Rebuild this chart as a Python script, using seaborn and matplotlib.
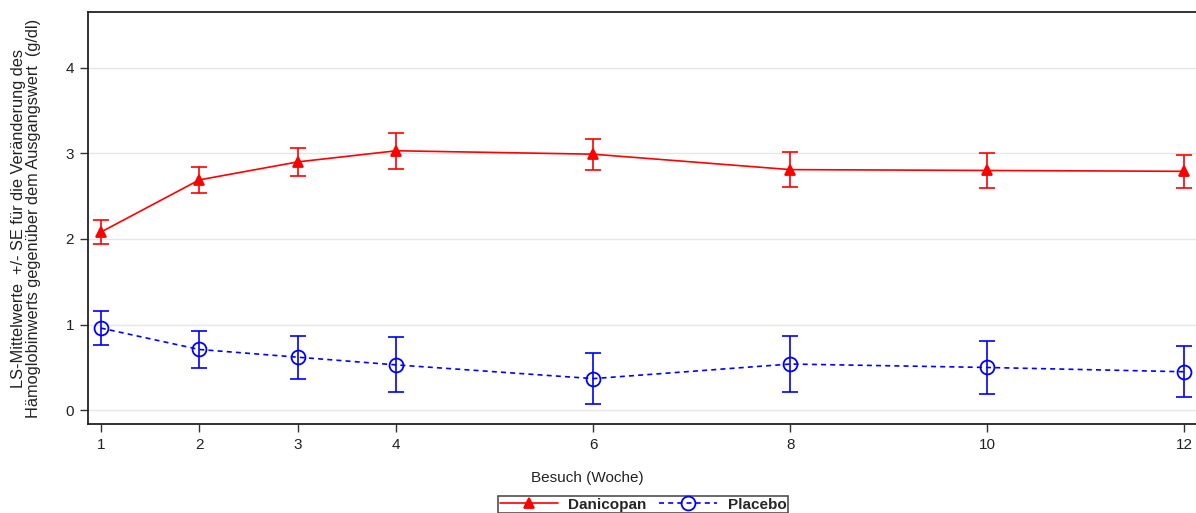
import numpy as np
import pandas as pd
import matplotlib
matplotlib.use('Agg')
import matplotlib.pyplot as plt
import seaborn as sns

weeks = [1, 2, 3, 4, 6, 8, 10, 12]
dani_mean = [2.08, 2.69, 2.90, 3.03, 2.99, 2.81, 2.80, 2.79]
dani_se = [0.14, 0.15, 0.16, 0.21, 0.18, 0.20, 0.20, 0.19]
plac_mean = [0.96, 0.71, 0.62, 0.53, 0.37, 0.54, 0.50, 0.45]
plac_se = [0.20, 0.22, 0.25, 0.32, 0.30, 0.33, 0.31, 0.30]
y_ticks = [0, 1, 2, 3, 4]

data_df = pd.DataFrame({
    'week': weeks * 2,
    'mean': dani_mean + plac_mean,
    'se': dani_se + plac_se,
    'group': ['Danicopan'] * len(weeks) + ['Placebo'] * len(weeks),
})

sns.set_theme(style="white")
plt.rcParams['font.family'] = ['Liberation Sans', 'DejaVu Sans']

fig = plt.figure(figsize=(11.96, 5.13), dpi=100)
ax = fig.add_axes([88 / 1196, 1 - 424 / 513, 1112 / 1196, 412 / 513])

colors = {'Danicopan': '#ff0000', 'Placebo': '#0000ff'}
styles = {'Danicopan': dict(ls='-', marker='^', mfc='#ff0000', ms=7),
          'Placebo': dict(ls=(0, (3, 2.5)), marker='o', mfc='none', ms=10)}

handles = []
for name, grp in data_df.groupby('group'):
    st = styles[name]
    ax.errorbar(grp['week'], grp['mean'], yerr=grp['se'], fmt='none',
                ecolor=colors[name], elinewidth=1.2, capsize=6, capthick=1.2, zorder=2)
    sns.lineplot(data=grp, x='week', y='mean', ax=ax, color=colors[name], lw=1.2,
                 linestyle=st['ls'], marker=st['marker'], mfc=st['mfc'],
                 mec=colors[name], ms=st['ms'], mew=1.3, zorder=3)
    handles.append(ax.get_lines()[-1])

ax.set_xlim(0.87, 12.16)
ax.set_ylim(-0.16, 4.65)
ax.set_xticks(weeks)
ax.set_yticks(y_ticks)
ax.tick_params(axis='both', length=6, width=1, color='#333333', labelsize=11,
               left=True, bottom=True, pad=4, labelcolor='#222222')
ax.grid(axis='y', color='#e6e6e6', lw=1)
ax.set_axisbelow(True)
for s in ax.spines.values():
    s.set_color('#222222')
    s.set_linewidth(1.3)

ax.set_xlabel('Besuch (Woche)', fontsize=11, color='#222222')
ax.xaxis.set_label_coords((587 - 88) / 1112, -0.115)
ax.set_ylabel('LS-Mittelwerte  +/- SE für die Veränderung des\n'
              'Hämoglobinwerts gegenüber dem Ausgangswert  (g/dl)',
              fontsize=11.8, color='#222222', linespacing=1.05)
ax.yaxis.set_label_coords(-0.042, 0.5)

leg = fig.legend(handles=handles, labels=['Danicopan', 'Placebo'],
                 loc='upper center', bbox_to_anchor=(643 / 1196, 1 - 496 / 513),
                 ncol=2, frameon=True, fancybox=False, edgecolor='#222222',
                 handlelength=3.8, handletextpad=0.7, columnspacing=0.8,
                 borderpad=0.1, borderaxespad=0,
                 prop={'weight': 'bold', 'size': 11})
leg.get_frame().set_linewidth(1.2)

plt.savefig('out.png', dpi=100)
